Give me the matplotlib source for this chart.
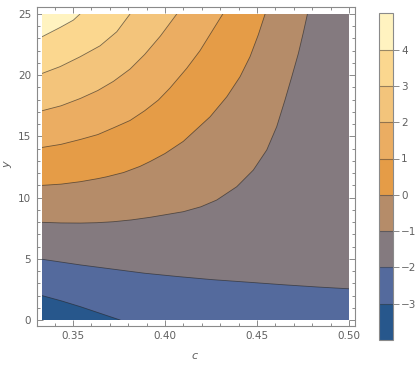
import matplotlib
matplotlib.use("Agg")
import matplotlib.pyplot as plt
import numpy as np
from matplotlib.colors import ListedColormap, BoundaryNorm
from matplotlib.patches import Rectangle, Polygon
from matplotlib.ticker import MultipleLocator, FixedLocator
import matplotlib.cm as cm

# ---------------- data ----------------
levels = [-3, -2, -1, 0, 1, 2, 3, 4]
band_colors = ['#27578c', '#546a9d', '#847a7f', '#b58c69', '#e59c47',
               '#ebad62', '#f3c47b', '#fbd78f', '#fff3c0']

lv_m3_c = [0.3333, 0.344, 0.354, 0.3756]
lv_m3_y = [1.99, 1.55, 1.09, 0.0]
lv_m2_c = [0.3333, 0.354, 0.372, 0.389, 0.407, 0.4254, 0.446, 0.4643, 0.4825, 0.5]
lv_m2_y = [4.96, 4.50, 4.15, 3.82, 3.55, 3.30, 3.08, 2.88, 2.70, 2.55]
lv_m1_c = [0.3333, 0.3435, 0.354, 0.363, 0.372, 0.3819, 0.3919, 0.41, 0.4195,
           0.4281, 0.439, 0.448, 0.4553, 0.4607, 0.4652, 0.4689, 0.4725, 0.4752, 0.4774]
lv_m1_y = [7.98, 7.93, 7.92, 7.95, 8.03, 8.18, 8.39, 8.85, 9.25,
           9.80, 10.89, 12.25, 13.89, 15.79, 17.97, 19.88, 21.79, 23.5, 25.0]
lv_0_c = [0.3333, 0.3435, 0.354, 0.3635, 0.3683, 0.3775, 0.3864, 0.3919, 0.40,
          0.41, 0.4245, 0.4336, 0.4408, 0.4462, 0.4507, 0.4544]
lv_0_y = [11.0, 11.1, 11.3, 11.55, 11.7, 12.05, 12.55, 12.95, 13.6,
          14.6, 16.6, 18.24, 19.88, 21.51, 23.3, 25.0]
lv_1_c = [0.3333, 0.3435, 0.354, 0.3635, 0.372, 0.381, 0.389, 0.3964, 0.4027,
          0.4118, 0.419, 0.4254, 0.4314]
lv_1_y = [14.1, 14.35, 14.75, 15.15, 15.7, 16.3, 17.1, 17.97, 18.95,
          20.56, 22.0, 23.55, 25.0]
lv_2_c = [0.3333, 0.3435, 0.354, 0.3635, 0.372, 0.381, 0.389, 0.3975, 0.4064]
lv_2_y = [17.1, 17.5, 18.1, 18.75, 19.5, 20.5, 21.7, 23.2, 25.0]
lv_3_c = [0.3333, 0.343, 0.3538, 0.3647, 0.3738, 0.381]
lv_3_y = [20.15, 20.7, 21.5, 22.4, 23.55, 25.0]
lv_4_c = [0.3333, 0.343, 0.3502, 0.3538]
lv_4_y = [23.15, 23.9, 24.5, 25.0]

curves = [(lv_m3_c, lv_m3_y), (lv_m2_c, lv_m2_y), (lv_m1_c, lv_m1_y),
          (lv_0_c, lv_0_y), (lv_1_c, lv_1_y), (lv_2_c, lv_2_y),
          (lv_3_c, lv_3_y), (lv_4_c, lv_4_y)]

c_min, c_max = 1 / 3, 0.5
y_min, y_max = 0.0, 25.0
x_ticks = [0.35, 0.40, 0.45, 0.50]
x_ticklabels = ['0.35', '0.40', '0.45', '0.50']
y_ticks = [0, 5, 10, 15, 20, 25]

# ---------------- figure ----------------
W, H = 419, 372
fig = plt.figure(figsize=(W / 100, H / 100), dpi=100)
gray = '#8a8a8a'
tcol = '#606060'

ax = fig.add_axes([36.7 / W, 1 - 325.7 / H, 318.3 / W, 318.4 / H])
ax.set_xlim(0.33029, 0.50326)
ax.set_ylim(-0.466, 25.547)

clip = Rectangle((c_min, y_min), c_max - c_min, y_max - y_min,
                 transform=ax.transData, facecolor='none', edgecolor='none')
ax.add_patch(clip)

base = Rectangle((c_min, y_min), c_max - c_min, y_max - y_min,
                 facecolor=band_colors[0], edgecolor='none', zorder=1)
ax.add_patch(base)

for i, (cs, ys) in enumerate(curves):
    pts = [(0.30, ys[0])] + list(zip(cs, ys))
    cl, yl = cs[-1], ys[-1]
    if yl >= y_max - 1e-9:
        pts += [(cl, 30)]
    elif cl >= c_max - 1e-9:
        pts += [(0.52, yl), (0.52, 30)]
    else:
        pts += [(cl, -2), (0.52, -2), (0.52, 30)]
    pts += [(0.30, 30)]
    poly = Polygon(pts, closed=True, facecolor=band_colors[i + 1],
                   edgecolor='none', zorder=2 + i * 0.01)
    ax.add_patch(poly)
    poly.set_clip_path(clip)

for cs, ys in curves:
    ln, = ax.plot(cs, ys, color='#222222', alpha=0.6, lw=0.6, zorder=3,
                  solid_joinstyle='round')
    ln.set_clip_path(clip)

for s in ax.spines.values():
    s.set_color(gray)
    s.set_linewidth(0.8)

ax.xaxis.set_major_locator(FixedLocator(x_ticks))
ax.set_xticklabels(x_ticklabels)
ax.xaxis.set_minor_locator(MultipleLocator(0.01))
ax.yaxis.set_major_locator(FixedLocator(y_ticks))
ax.yaxis.set_minor_locator(MultipleLocator(1))
ax.tick_params(which='both', direction='in', top=True, right=True,
               color=gray, labelcolor=tcol, labelsize=7.5, width=0.7)
ax.tick_params(which='major', length=4.5, pad=4)
ax.tick_params(which='minor', length=2.3)

fig.text(195 / W, 1 - 356 / H, 'c', color=tcol, fontsize=8, style='italic',
         ha='center', va='center')
fig.text(7 / W, 1 - 165 / H, 'y', color=tcol, fontsize=8, style='italic',
         ha='center', va='center', rotation=90)

# ---------------- colorbar ----------------
bounds = [-4] + levels + [5]
cmap = ListedColormap(band_colors)
norm = BoundaryNorm(bounds, cmap.N)
cax = fig.add_axes([379 / W, 1 - 340 / H, 14.3 / W, 326.7 / H])
sm = cm.ScalarMappable(norm=norm, cmap=cmap)
cb = fig.colorbar(sm, cax=cax, boundaries=bounds, ticks=levels)
cb.set_ticklabels([str(v).replace('-', '\u2212') for v in levels])
cb.outline.set_edgecolor(gray)
cb.outline.set_linewidth(0.8)
for v in levels:
    cax.axhline(v, color='#3a3a3a', alpha=0.5, lw=0.8)
cax.tick_params(direction='out', length=4, width=0.7, color=gray,
                labelcolor=tcol, labelsize=7.5, pad=1.5)
cax.minorticks_off()

fig.savefig('out.png', dpi=100)
